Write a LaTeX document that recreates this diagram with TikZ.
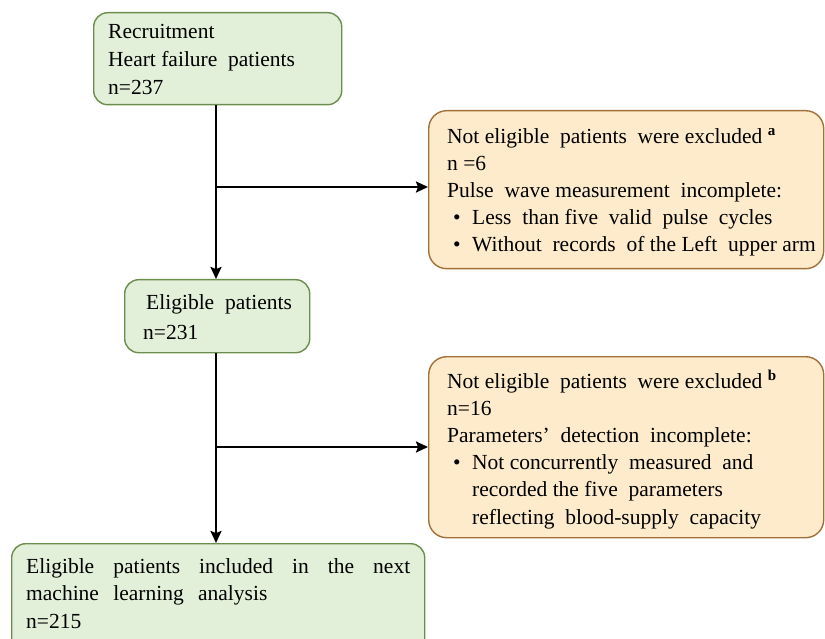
\documentclass[tikz,border=0pt]{standalone}
\usepackage{fontspec}
\setmainfont{Liberation Serif}
\usetikzlibrary{arrows.meta}
\definecolor{gfill}{HTML}{E2EFD9}
\definecolor{gline}{HTML}{6B8E4E}
\definecolor{ofill}{HTML}{FDEBCB}
\definecolor{oline}{HTML}{A26F38}
\newcommand{\bul}{\hspace*{6pt}\makebox[19pt][l]{\textbullet}}
\begin{document}
\begin{tikzpicture}[x=1pt,y=-1pt,
  gbox/.style={draw=gline, fill=gfill, line width=1.4pt, rounded corners=14pt, inner sep=0pt, anchor=north west},
  obox/.style={draw=oline, fill=ofill, line width=1.4pt, rounded corners=18pt, inner sep=0pt, anchor=north west},
  txt/.style={inner sep=0pt, anchor=north west, align=left},
  arr/.style={line width=2.2pt, -{Stealth[length=12pt,width=11pt,inset=2pt]}}]
\useasboundingbox (0,0) rectangle (825,639);
% boxes
\node[gbox, minimum width=248pt, minimum height=92pt] (b1) at (93,12) {};
\node[obox, minimum width=395pt, minimum height=158pt] (b2) at (428,110) {};
\node[gbox, minimum width=185pt, minimum height=73pt] (b3) at (124,279) {};
\node[obox, minimum width=395pt, minimum height=181pt] (b4) at (428,356) {};
\node[gbox, minimum width=413pt, minimum height=110pt] (b5) at (11,543) {};
% texts
\node[txt, font=\fontsize{21.5}{28}\selectfont] (t1) at (108,24) {Recruitment\\Heart failure\ \ patients\\n=237};
\node[txt, font=\fontsize{21.5}{27}\selectfont] (t2) at (447,128) {Not eligible\ \ patients\ \ were excluded\ \textsuperscript{\textbf{a}}\\n =6\\Pulse\ \ wave measurement\ \ incomplete:\\\bul Less\ \ than five\ \ valid\ \ pulse\ \ cycles\\\bul Without\ \ records\ \ of the Left\ \ upper arm};
\node[txt, font=\fontsize{21.5}{30}\selectfont] (t3) at (143,294) {\hspace*{3pt}Eligible\ \ patients\\n=231};
\node[txt, font=\fontsize{21.5}{27.2}\selectfont] (t4) at (447,370) {Not eligible\ \ patients\ \ were excluded\ \textsuperscript{\textbf{b}}\\n=16\\Parameters'\ \ detection\ \ incomplete:\\\bul Not concurrently\ \ measured\ \ and\\\hspace*{25pt}recorded the five\ \ parameters\\\hspace*{25pt}reflecting\ \ blood-supply\ \ capacity};
\node[txt, text width=384pt, font=\fontsize{21.5}{27.5}\selectfont] (t5) at (26,558) {Eligible\hfill patients\hfill included\hfill in\hfill the\hfill next\\machine\ \ learning\ \ analysis\\n=215};
% connectors
\coordinate (j1) at (216,187);
\coordinate (j2) at (216,447);
\draw[arr] (b1.south -| j1) -- (b3.north -| j1);
\draw[arr] (j1) -- (j1 -| b2.west);
\draw[arr] (b3.south -| j2) -- (b5.north -| j2);
\draw[arr] (j2) -- (j2 -| b4.west);
\end{tikzpicture}
\end{document}
